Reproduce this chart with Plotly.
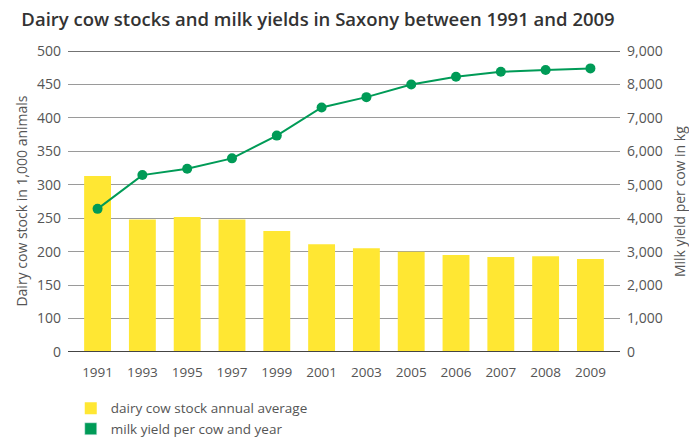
import plotly.graph_objects as go

years = ["1991", "1993", "1995", "1997", "1999", "2001", "2003", "2005", "2006", "2007", "2008", "2009"]
cow_stock = [313, 248, 252, 248, 231, 211, 205, 200, 195, 192, 193, 189]  # 1,000 animals
milk_yield = [4280, 5290, 5480, 5790, 6470, 7310, 7620, 8000, 8230, 8380, 8430, 8480]  # kg per cow
left_ticks = [50, 100, 150, 200, 250, 300, 350, 400, 450, 500]
left_labels = ["0", "100", "150", "200", "250", "300", "350", "400", "450", "500"]
right_ticks = [0, 1000, 2000, 3000, 4000, 5000, 6000, 7000, 8000, 9000]
right_labels = ["0", "1,000", "2,000", "3,000", "4,000", "5,000", "6,000", "7,000", "8,000", "9,000"]

YELLOW = "#FFE733"
GREEN = "#009B57"
FONT = "Open Sans"
TXT = "#555555"

fig = go.Figure()
fig.add_trace(go.Bar(x=years, y=cow_stock, marker=dict(color=YELLOW, line=dict(width=0)),
                     width=0.6, name="dairy cow stock annual average", yaxis="y", showlegend=True))
fig.add_trace(go.Scatter(x=years, y=milk_yield, mode="lines+markers", yaxis="y2",
                         line=dict(color=GREEN, width=2), marker=dict(color=GREEN, size=10),
                         name="milk yield per cow and year", showlegend=False))
# legend swatch for the line series (square, as in the reference)
fig.add_trace(go.Bar(x=[None], y=[None], marker=dict(color=GREEN), name="milk yield per cow and year",
                     yaxis="y2", showlegend=True))

fig.update_layout(
    width=689, height=441,
    margin=dict(l=68, r=69, t=51, b=89, autoexpand=False),
    paper_bgcolor="white", plot_bgcolor="white",
    font=dict(family=FONT, color=TXT, size=13),
    title=dict(text="Dairy cow stocks and milk yields in Saxony between 1991 and 2009",
               x=0.031, xanchor="left", y=0.955, yanchor="middle",
               font=dict(family=FONT, size=18.5, color="#333333", weight=600)),
    barmode="overlay",
    xaxis=dict(range=[-0.66, 11.66], showgrid=False, ticks="", tickfont=dict(size=13.5, color=TXT),
               showline=False, zeroline=False, automargin=False, ticklabelstandoff=10),
    yaxis=dict(range=[50, 500], tickvals=left_ticks, ticktext=left_labels, automargin=False,
               showgrid=True, gridcolor="#9a9a9a", gridwidth=1, zeroline=False, showline=False,
               ticks="", ticklabelstandoff=6, tickfont=dict(size=14, color=TXT)),
    yaxis2=dict(range=[0, 9000], tickvals=right_ticks, ticktext=right_labels, overlaying="y", side="right",
                showgrid=False, zeroline=False, showline=False, ticks="", ticklabelstandoff=6,
                automargin=False, tickfont=dict(size=14, color=TXT)),
    legend=dict(x=0.005, y=-0.136, xanchor="left", yanchor="top", orientation="v",
                font=dict(size=13.5, color=TXT), itemwidth=30, tracegroupgap=5,
                bgcolor="rgba(0,0,0,0)"),
    annotations=[
        dict(text="Dairy cow stock in 1,000 animals", xref="paper", yref="paper", x=-0.085, y=0.5,
             textangle=-90, showarrow=False, xanchor="center", yanchor="middle",
             font=dict(size=14, color=TXT)),
        dict(text="Milk yield per cow in kg", xref="paper", yref="paper", x=1.108, y=0.5,
             textangle=-90, showarrow=False, xanchor="center", yanchor="middle",
             font=dict(size=14, color=TXT)),
    ],
    shapes=[
        dict(type="line", xref="paper", yref="y", x0=0, x1=1, y0=500, y1=500, line=dict(color="#444444", width=1.5), layer="below"),
        dict(type="line", xref="paper", yref="y", x0=0, x1=1, y0=50, y1=50, line=dict(color="#444444", width=2), layer="above"),
    ],
)

fig.write_html("out.html", config={"displayModeBar": False},
               post_script="document.body.style.margin='0';")
